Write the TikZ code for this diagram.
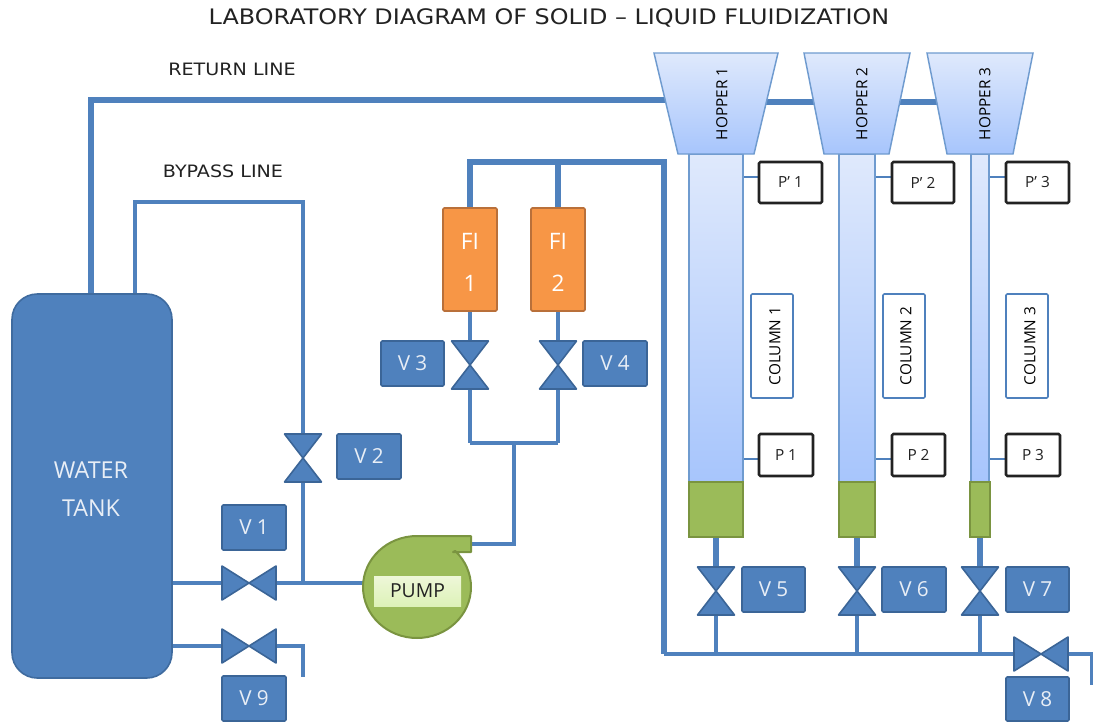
\documentclass[tikz,border=0pt]{standalone}
\usepackage{fontspec}
\setmainfont{Open Sans}
\newfontfamily\widefont[FakeStretch=1.12]{DejaVu Sans}
\usetikzlibrary{calc}
\definecolor{pipeblue}{HTML}{4F81BD}
\definecolor{darkblue}{HTML}{3B6597}
\definecolor{fillgreen}{HTML}{9BBB59}
\definecolor{edgegreen}{HTML}{7A9440}
\definecolor{fillorange}{HTML}{F79646}
\definecolor{edgeorange}{HTML}{B9703A}
\definecolor{lightA}{HTML}{DFE9FC}
\definecolor{lightB}{HTML}{A7C5FC}
\definecolor{hopline}{HTML}{6F9BCF}
\definecolor{inktext}{HTML}{222222}
\definecolor{paletext}{HTML}{E8EEF6}
\definecolor{pumpA}{HTML}{EEF7D8}
\definecolor{pumpB}{HTML}{DDF2B8}
\pgfdeclarelayer{pipes}
\pgfsetlayers{pipes,main}
\tikzset{
  px/.style 2 args={minimum width={(#1)*0.75pt},minimum height={(#2)*0.75pt},inner sep=0pt,outer sep=0pt},
  pipe/.style={draw=pipeblue,line width=3.8pt,line join=miter},
  pipethin/.style={draw=pipeblue,line width=3pt,line join=miter},
  pipefat/.style={draw=pipeblue,line width=5pt},
  tap/.style={draw=pipeblue,line width=1.5pt},
  valveshape/.style={fill=pipeblue,draw=darkblue,line width=1.2pt,line join=round},
  vlabel/.style={rectangle,rounded corners=1pt,fill=pipeblue,draw=darkblue,line width=1.2pt,text=paletext,font=\fontsize{15.5}{15.5}\selectfont},
  gauge/.style={rectangle,rounded corners=1pt,fill=white,draw=inktext,line width=1.9pt,text=inktext,font=\fontsize{11.5}{11.5}\selectfont},
  colbox/.style={rectangle,rounded corners=1pt,fill=white,draw=pipeblue,line width=1.2pt,text=black},
  collabel/.style={font=\fontsize{11.5}{11.5}\selectfont,rotate=90,text=black},
  hopshape/.style={top color=lightA,bottom color=lightB,draw=hopline,line width=1.1pt},
  column/.style={rectangle,top color=lightA,bottom color=lightB,draw=hopline,line width=1.1pt},
  bed/.style={rectangle,fill=fillgreen,draw=edgegreen,line width=1.2pt},
  fi/.style={rectangle,rounded corners=1pt,fill=fillorange,draw=edgeorange,line width=1.3pt,text=white,align=center,font=\fontsize{17}{31}\selectfont},
  caption/.style={text=inktext,font=\widefont\fontsize{12.8}{12.8}\selectfont},
  tanktext/.style={text=paletext,font=\fontsize{17.5}{17.5}\selectfont}
}
\newcommand{\lowr}[1]{\raisebox{-2.2pt}[\height][\depth]{#1}}
\newcommand{\boxat}[7]{\node[#6,px={#4-#2}{#5-#3}] (#1) at ({(#2+#4)/2},{(#3+#5)/2}) {#7};}
\newcommand{\vvalve}[3]{%
  \node[px={37}{48}] (#1) at (#2,#3) {};
  \draw[valveshape] (#1.north west) -- (#1.north east) -- (#1.south west) -- (#1.south east) -- cycle;}
\newcommand{\hvalve}[3]{%
  \node[px={54}{34}] (#1) at (#2,#3) {};
  \draw[valveshape] (#1.north west) -- (#1.south west) -- (#1.north east) -- (#1.south east) -- cycle;}
\newcommand{\hopper}[8]{% name, topL, topR, botL, botR, cx, text-x, text
  \node[px={#3-#2}{101}] (#1) at ({(#2+#3)/2},103.5) {};
  \draw[hopshape] (#2,53) -- (#3,53) -- (#5,154) -- (#4,154) -- cycle;
  \node[collabel] (#1t) at (#7,104) {#8};}
\begin{document}
\begin{tikzpicture}[x=0.75pt,y=-0.75pt]
\useasboundingbox (0,0) rectangle (1093,722);
% texts
\node[text=inktext,font=\widefont\fontsize{16}{16}\selectfont] (title) at (549,18) {LABORATORY DIAGRAM OF SOLID – LIQUID FLUIDIZATION};
\node[caption] (ret) at (232,69) {RETURN LINE};
\node[caption] (byp) at (223,171) {BYPASS LINE};
% tank
\boxat{tank}{12}{294}{172}{678}{rectangle,rounded corners=19pt,fill=pipeblue,draw=darkblue!80!pipeblue,line width=1.2pt}{}
\node[tanktext] (tankA) at (91,470) {WATER};
\node[tanktext] (tankB) at (91,508) {TANK};
% valves
\hvalve{v1}{249}{583}
\hvalve{v9}{249}{646}
\vvalve{v2}{303}{458}
\vvalve{v3}{470}{365}
\vvalve{v4}{558}{365}
\vvalve{v5}{716}{591}
\vvalve{v6}{857}{591}
\vvalve{v7}{980}{591}
\hvalve{v8}{1041}{654}
% valve labels
\boxat{l1}{222}{505}{286}{550}{vlabel}{V 1}
\boxat{l2}{337}{434}{401}{479}{vlabel}{V 2}
\boxat{l3}{381}{341}{444}{386}{vlabel}{V 3}
\boxat{l4}{583}{341}{647}{386}{vlabel}{V 4}
\boxat{l5}{742}{567}{805}{612}{vlabel}{V 5}
\boxat{l6}{882}{567}{946}{612}{vlabel}{V 6}
\boxat{l7}{1006}{567}{1069}{612}{vlabel}{V 7}
\boxat{l8}{1006}{677}{1069}{721}{vlabel}{V 8}
\boxat{l9}{222}{676}{286}{721}{vlabel}{V 9}
% flow indicators
\boxat{fi1}{443}{208}{497}{311}{fi}{\lowr{FI}\\\lowr{1}}
\boxat{fi2}{531}{208}{585}{311}{fi}{\lowr{FI}\\\lowr{2}}
% pump
\node[circle,minimum size=0.75pt*108,inner sep=0pt,outer sep=0pt] (pump) at (417,587) {};
\coordinate (pumpout) at (471,544);
\draw[fill=fillgreen,draw=edgegreen,line width=1.5pt,line join=round]
  (471,536) -- (417,536) arc[start angle=90,delta angle=315,x radius=54*0.75pt,y radius=51*0.75pt] -- (453,552) -- (471,552) -- cycle;
\boxat{pumpl}{374}{576}{461}{606}{rectangle,top color=pumpA,bottom color=pumpB,draw=none,text=inktext,font=\fontsize{14.5}{14.5}\selectfont}{PUMP}
% columns and beds
\boxat{c1}{689}{154}{743}{482}{column}{}
\boxat{c2}{839}{154}{875}{482}{column}{}
\boxat{c3}{971}{154}{989}{482}{column}{}
\boxat{b1}{689}{482}{743}{537}{bed}{}
\boxat{b2}{839}{482}{875}{537}{bed}{}
\boxat{b3}{970}{482}{990}{537}{bed}{}
\hopper{h1}{654}{778}{678}{754}{716}{722}{HOPPER 1}
\hopper{h2}{804}{910}{824}{889}{857}{862}{HOPPER 2}
\hopper{h3}{927}{1033}{947}{1013}{980}{985}{HOPPER 3}
% pressure boxes
\boxat{pp1}{759}{162}{822}{203}{gauge}{P’ 1}
\boxat{pp2}{892}{162}{954}{203}{gauge}{P’ 2}
\boxat{pp3}{1006}{162}{1069}{203}{gauge}{P’ 3}
\boxat{p1}{759}{434}{813}{476}{gauge}{P 1}
\boxat{p2}{892}{434}{945}{476}{gauge}{P 2}
\boxat{p3}{1006}{434}{1060}{476}{gauge}{P 3}
% column labels
\boxat{cl1}{751}{294}{793}{398}{colbox}{}
\boxat{cl2}{883}{294}{925}{398}{colbox}{}
\boxat{cl3}{1006}{294}{1048}{398}{colbox}{}
\node[collabel] (clt1) at (775,346) {COLUMN 1};
\node[collabel] (clt2) at (906,346) {COLUMN 2};
\node[collabel] (clt3) at (1030,346) {COLUMN 3};
% junctions
\coordinate (retc) at (91,100);
\coordinate (bypa) at (135,202);
\coordinate (bypb) at (303,202);
\coordinate (fsplit1) at (470,162);
\coordinate (fsplit2) at (558,162);
\coordinate (fcorner) at (664,162);
\coordinate (fbase) at (664,654);
\coordinate (j5) at (716,654);
\coordinate (j6) at (857,654);
\coordinate (j7) at (980,654);
\coordinate (endr) at (1092,654);
\coordinate (endd) at (1092,685);
\coordinate (j1) at (303,583);
\coordinate (j9a) at (303,646);
\coordinate (j9b) at (303,677);
\coordinate (m1) at (470,443);
\coordinate (m2) at (558,443);
\coordinate (m3) at (514,443);
\coordinate (m4) at (514,544);
\begin{pgfonlayer}{pipes}
\draw[pipe] (tank.north -| retc) -- (retc) -- (retc -| h1.center);
\draw[pipe] (h1.center |- 0,102) -- (h2.center |- 0,102) -- (h3.center |- 0,102);
\draw[pipethin] (tank.north -| bypa) -- (bypa) -- (bypb) -- (v2.north);
\draw[pipethin] (v2.south) -- (j1);
\draw[pipethin] (tank.east |- v1) -- (v1.west);
\draw[pipethin] (v1.east) -- (pump.west |- j1);
\draw[pipethin] (tank.east |- v9) -- (v9.west);
\draw[pipethin] (v9.east) -- (j9a) -- (j9b);
\draw[pipethin] (pumpout) -- (m4) -- (m3);
\draw[pipethin] (m1) -- (m2);
\draw[pipethin] (v3.south) -- (m1);
\draw[pipethin] (v4.south) -- (m2);
\draw[pipethin] (fi1.south) -- (v3.north);
\draw[pipethin] (fi2.south) -- (v4.north);
\draw[pipe] (fi1.north) -- (fsplit1) -- (fcorner) -- (fbase);
\draw[pipethin] (fbase) -- (v8.west);
\draw[pipethin] (v8.east) -- (endr) -- (endd);
\draw[pipe] (fi2.north) -- (fsplit2);
\draw[pipefat] (b1.south) -- (v5.north);
\draw[pipefat] (b2.south) -- (v6.north);
\draw[pipe] (b3.south) -- (v7.north);
\draw[pipethin] (v5.south) -- (j5);
\draw[pipethin] (v6.south) -- (j6);
\draw[pipethin] (v7.south) -- (j7);
\draw[tap] (pp1.west |- 0,177) -- (c1.east |- 0,177);
\draw[tap] (pp2.west |- 0,177) -- (c2.east |- 0,177);
\draw[tap] (pp3.west |- 0,177) -- (c3.east |- 0,177);
\draw[tap] (p1.west |- 0,459) -- (c1.east |- 0,459);
\draw[tap] (p2.west |- 0,459) -- (c2.east |- 0,459);
\draw[tap] (p3.west |- 0,459) -- (c3.east |- 0,459);
\end{pgfonlayer}
\end{tikzpicture}
\end{document}
